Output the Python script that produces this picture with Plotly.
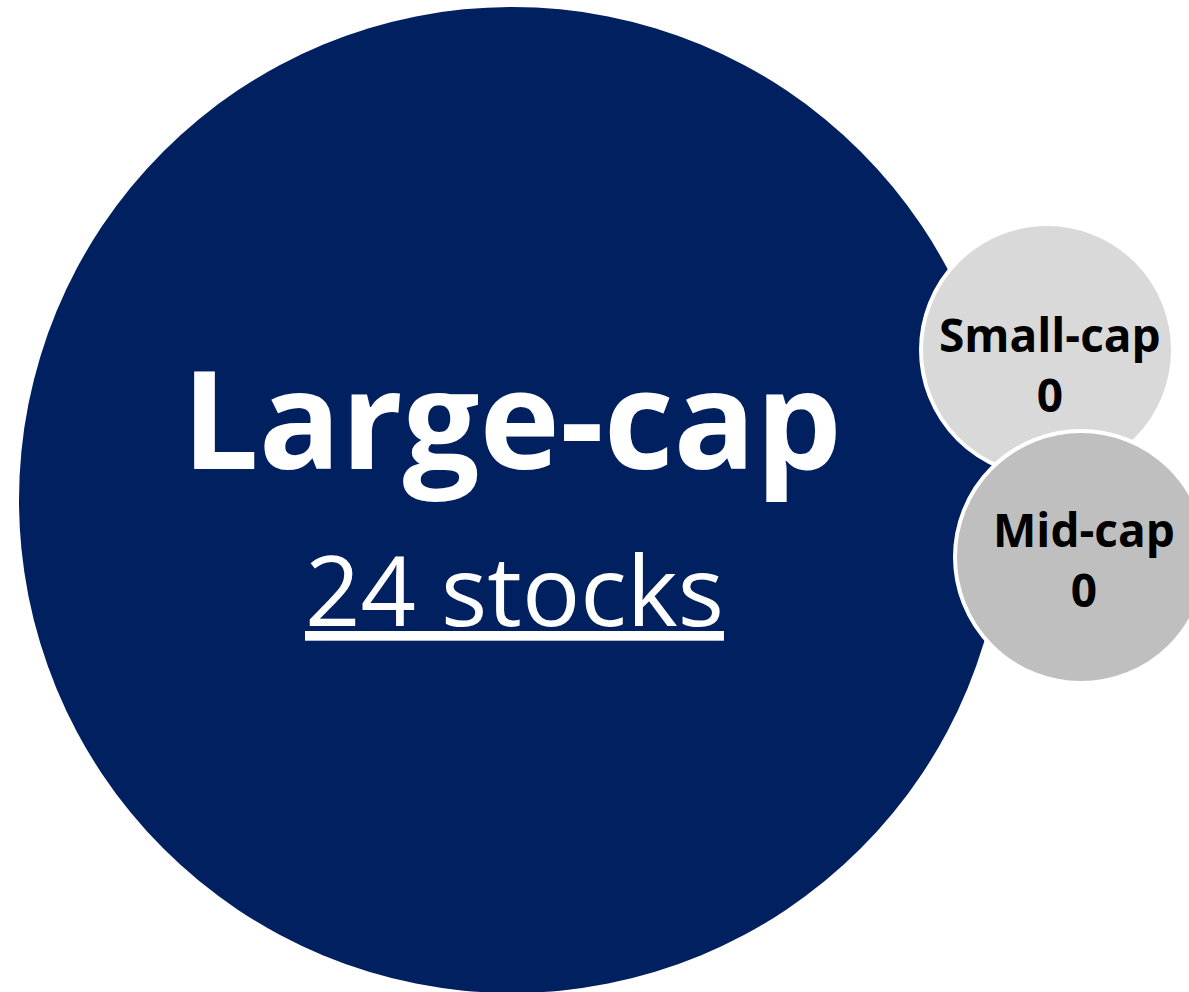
import plotly.graph_objects as go

# Data
categories = ["Large-cap", "Small-cap", "Mid-cap"]
stock_counts = [24, 0, 0]

# Layout (pixel canvas) for packed bubbles
W, H = 1189, 992
centers_x = [512, 1047, 1081]
centers_y = [500, 350, 557]
radii = [493, 126, 126]
fills = ["#002060", "#D9D9D9", "#BFBFBF"]
label_dy = [0, 14, 2]
FONT = "Open Sans"

fig = go.Figure()
for i, cat in enumerate(categories):
    fig.add_trace(go.Scatter(
        x=[centers_x[i]], y=[centers_y[i]], mode="markers",
        marker=dict(size=2 * radii[i], color=fills[i],
                    line=dict(color="white", width=4 if i else 0)),
        hoverinfo="skip", showlegend=False, cliponaxis=True,
    ))

# Large-cap labels
fig.add_annotation(x=centers_x[0], y=centers_y[0] - 84, text="<b>" + categories[0] + "</b>",
                   showarrow=False, xanchor="center", yanchor="middle",
                   font=dict(family=FONT, size=136, color="white"))
fig.add_annotation(x=centers_x[0] + 2, y=centers_y[0] + 88, text=f"{stock_counts[0]} stocks",
                   showarrow=False, xanchor="center", yanchor="middle",
                   font=dict(family=FONT, size=97, color="white", lineposition="under"))

# Small bubbles labels
for i in (1, 2):
    fig.add_annotation(x=centers_x[i] + 3, y=centers_y[i] + label_dy[i],
                       text=f"<b>{categories[i]}</b><br><b>{stock_counts[i]}</b>",
                       showarrow=False, xanchor="center", yanchor="middle",
                       font=dict(family=FONT, size=46, color="black"))

fig.update_xaxes(range=[0, W], visible=False, fixedrange=True)
fig.update_yaxes(range=[H, 0], visible=False, fixedrange=True)
fig.update_layout(width=W, height=H, margin=dict(l=0, r=0, t=0, b=0),
                  paper_bgcolor="white", plot_bgcolor="white")
fig.write_html("out.html", config={"displayModeBar": False},
               post_script="document.body.style.margin='0';document.body.style.overflow='hidden';")
